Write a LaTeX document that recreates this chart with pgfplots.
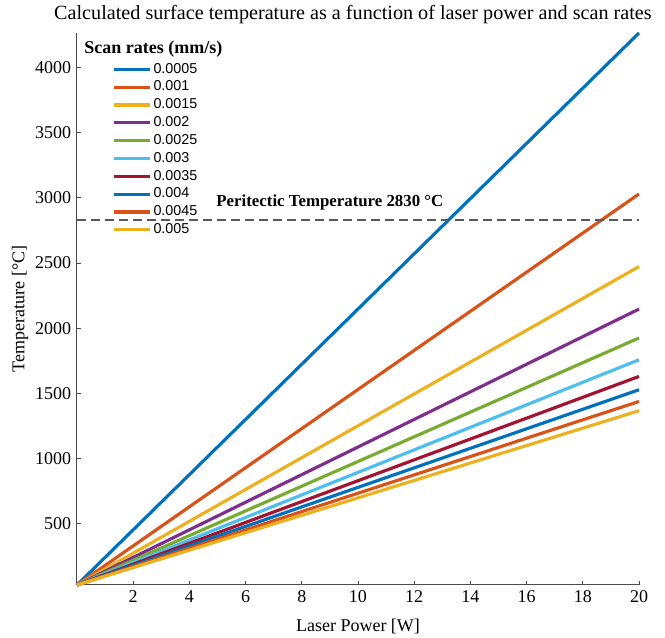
\documentclass[border=0pt]{standalone}
\usepackage{fontspec}
\setmainfont{Liberation Serif}
\newfontfamily\legendfont{Liberation Sans}
\usepackage{pgfplots}
\pgfplotsset{compat=1.18}

% MATLAB default line colours
\definecolor{mB}{rgb}{0,0.447,0.741}
\definecolor{mO}{rgb}{0.850,0.325,0.098}
\definecolor{mY}{rgb}{0.929,0.694,0.125}
\definecolor{mP}{rgb}{0.494,0.184,0.556}
\definecolor{mG}{rgb}{0.466,0.674,0.188}
\definecolor{mC}{rgb}{0.301,0.745,0.933}
\definecolor{mR}{rgb}{0.635,0.078,0.184}

\begin{document}
\begin{tikzpicture}
\begin{axis}[
    scale only axis,
    width=337.2pt,
    height=331.2pt,
    xmin=0, xmax=20,
    ymin=30, ymax=4265,
    axis x line=bottom,
    axis y line=left,
    axis line style={-, black!70, line width=0.6pt},
    tick align=inside,
    major tick length=2.6pt,
    tick style={black!70, line width=0.6pt},
    xtick={2,4,...,20},
    ytick={500,1000,...,4000},
    font=\fontsize{10.8}{13}\selectfont,
    /pgf/number format/assume math mode=true,
    scaled y ticks=false,
    y tick label style={/pgf/number format/1000 sep={}},
    xlabel={Laser Power [W]},
    ylabel={Temperature [°C]},
    xlabel style={at={(axis description cs:0.5,-0.0743)}, anchor=center},
    ylabel style={at={(axis description cs:-0.1014,0.5)}, anchor=center},
    clip=false,
    legend cell align=left,
    legend image code/.code={\draw[#1] (0pt,0pt) -- (21.6pt,0pt);},
    legend style={draw=none, fill=none,
        at={(axis description cs:0.0623,0.951)}, anchor=north west,
        inner sep=0pt, row sep=0pt,
        nodes={inner xsep=1.2pt, inner ysep=0pt, minimum height=10.7pt,
               font=\fontsize{8.6}{10}\selectfont\legendfont}},
    every axis plot/.append style={line width=1.9pt},
]
\addplot[mB] coordinates {(0,30) (20,4265)};
\addlegendentry{0.0005}
\addplot[mO] coordinates {(0,30) (20,3030)};
\addlegendentry{0.001}
\addplot[mY] coordinates {(0,30) (20,2473)};
\addlegendentry{0.0015}
\addplot[mP] coordinates {(0,30) (20,2147)};
\addlegendentry{0.002}
\addplot[mG] coordinates {(0,30) (20,1925)};
\addlegendentry{0.0025}
\addplot[mC] coordinates {(0,30) (20,1758)};
\addlegendentry{0.003}
\addplot[mR] coordinates {(0,30) (20,1630)};
\addlegendentry{0.0035}
\addplot[mB] coordinates {(0,30) (20,1528)};
\addlegendentry{0.004}
\addplot[mO] coordinates {(0,30) (20,1438)};
\addlegendentry{0.0045}
\addplot[mY] coordinates {(0,30) (20,1367)};
\addlegendentry{0.005}

% peritectic temperature
\addplot[black!65, line width=0.9pt, dash pattern=on 5.4pt off 3pt, forget plot]
    coordinates {(0,2830) (20,2830)};
\node[anchor=west, inner sep=0pt, font=\fontsize{10.1}{12}\selectfont\bfseries]
    at (axis cs:4.95,2968) {Peritectic Temperature 2830 °C};

\node[anchor=west, inner sep=0pt, font=\fontsize{10.8}{13}\selectfont\bfseries]
    at (axis description cs:0.0125,0.971) {Scan rates (mm/s)};

% title
\node[anchor=center, inner sep=0pt, font=\fontsize{12.1}{14}\selectfont]
    at (axis description cs:0.491,1.0326)
    {Calculated surface temperature as a function of laser power and scan rates};
\end{axis}
\pgfresetboundingbox
\path[use as bounding box]
    ([xshift=-46.2pt,yshift=-31.8pt]current axis.south west) rectangle
    ([xshift=15.6pt,yshift=19.8pt]current axis.north east);
\end{tikzpicture}
\end{document}
